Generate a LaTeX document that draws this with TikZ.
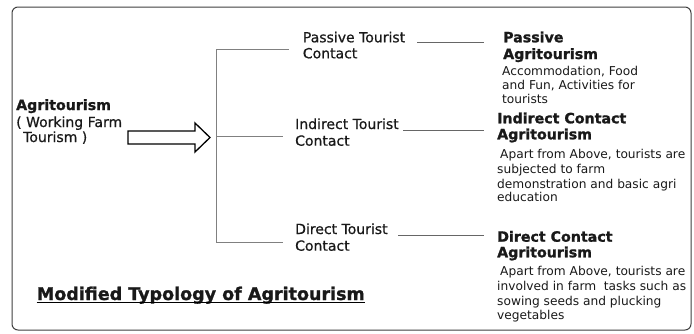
\documentclass[tikz,border=0pt]{standalone}
\usepackage{fontspec}
\setmainfont{DejaVu Sans}[BoldFeatures={FakeBold=1.2}]
\newfontfamily\midfont{DejaVu Sans}[FakeBold=0.6]
\usetikzlibrary{calc}
\tikzset{
  txt/.style={anchor=base west, inner sep=0pt, text=black!90, font=\midfont\fontsize{14}{16}\selectfont},
  head/.style={txt, font=\fontsize{14.2}{17}\selectfont\bfseries},
  desc/.style={txt, font=\fontsize{12.2}{14}\selectfont},
  branch/.style={draw=black!50, line width=0.8pt},
  uline/.style={draw=black!60, line width=0.8pt},
  frame/.style={draw=black!75, line width=1pt, rounded corners=6pt},
  blockarrow/.style={draw=black, line width=1.3pt, line join=miter, fill=white}
}
\begin{document}
\begin{tikzpicture}[x=1pt,y=-1pt]
\useasboundingbox[fill=white] (0,0) rectangle (694,333);
\draw[frame] (12,7) rectangle (691,330);

% left block
\node[head] (agri) at (16,110) {Agritourism};
\node[txt] (work) at (16,127) {( Working Farm};
\node[txt] (tour) at (23,142) {Tourism )};

% block arrow
\coordinate (arrtail) at (128,137.5);
\coordinate (arrtip) at (210,137.5);
\draw[blockarrow] (128,131) -- (195,131) -- (195,123) -- (arrtip) -- (195,152) -- (195,144) -- (128,144) -- cycle;

% branching
\coordinate (btop) at (216,49);
\coordinate (bmid) at (216,136);
\coordinate (bbot) at (216,242);
\coordinate (etop) at (289,49);
\coordinate (emid) at (283,136);
\coordinate (ebot) at (283,242);
\draw[branch] (btop) -- (bbot);
\draw[branch] (btop) -- (etop);
\draw[branch] (bmid) -- (emid);
\draw[branch] (bbot) -- (ebot);

% middle labels
\node[txt] (pt1) at (302.7,42.3) {Passive Tourist};
\node[txt] (pc1) at (302.7,58.3) {Contact};
\node[txt] (it1) at (295,129) {Indirect Tourist};
\node[txt] (ic1) at (295,145.7) {Contact};
\node[txt] (dt1) at (295,234) {Direct Tourist};
\node[txt] (dc1) at (295,250.7) {Contact};

% underscore connectors
\coordinate (ps) at (417,42.8);
\coordinate (pe) at (484,42.8);
\coordinate (is) at (403,130);
\coordinate (ie) at (484,130);
\coordinate (ds) at (398,235.5);
\coordinate (de) at (484,235.5);
\draw[uline] (ps) -- (pe);
\draw[uline] (is) -- (ie);
\draw[uline] (ds) -- (de);

% right column: passive
\node[head] (ph1) at (503,42.3) {Passive};
\node[head] (ph2) at (503,59) {Agritourism};
\node[desc] (pd1) at (502,75) {Accommodation, Food};
\node[desc] (pd2) at (502,89.3) {and Fun, Activities for};
\node[desc] (pd3) at (502,103) {tourists};

% right column: indirect
\node[head] (ih1) at (497,123.3) {Indirect Contact};
\node[head] (ih2) at (497,139.3) {Agritourism};
\node[desc] (id1) at (500,158.3) {Apart from Above, tourists are};
\node[desc] (id2) at (497,173.3) {subjected to farm};
\node[desc] (id3) at (497,188.3) {demonstration and basic agri};
\node[desc] (id4) at (497,201.7) {education};

% right column: direct
\node[head] (dh1) at (497,241.7) {Direct Contact};
\node[head] (dh2) at (497,257.3) {Agritourism};
\node[desc] (dd1) at (500,275) {Apart from Above, tourists are};
\node[desc] (dd2) at (497,290) {involved in farm\ \ tasks such as};
\node[desc] (dd3) at (497,305) {sowing seeds and plucking};
\node[desc] (dd4) at (497,319) {vegetables};

% title
\node[txt, font=\fontsize{17.5}{20}\selectfont\bfseries] (title) at (36.7,300) {Modified Typology of Agritourism};
\draw[black, line width=1.4pt] ($(title.base west)+(0,2.6)$) -- ($(title.base east)+(0,2.6)$);
\end{tikzpicture}
\end{document}
